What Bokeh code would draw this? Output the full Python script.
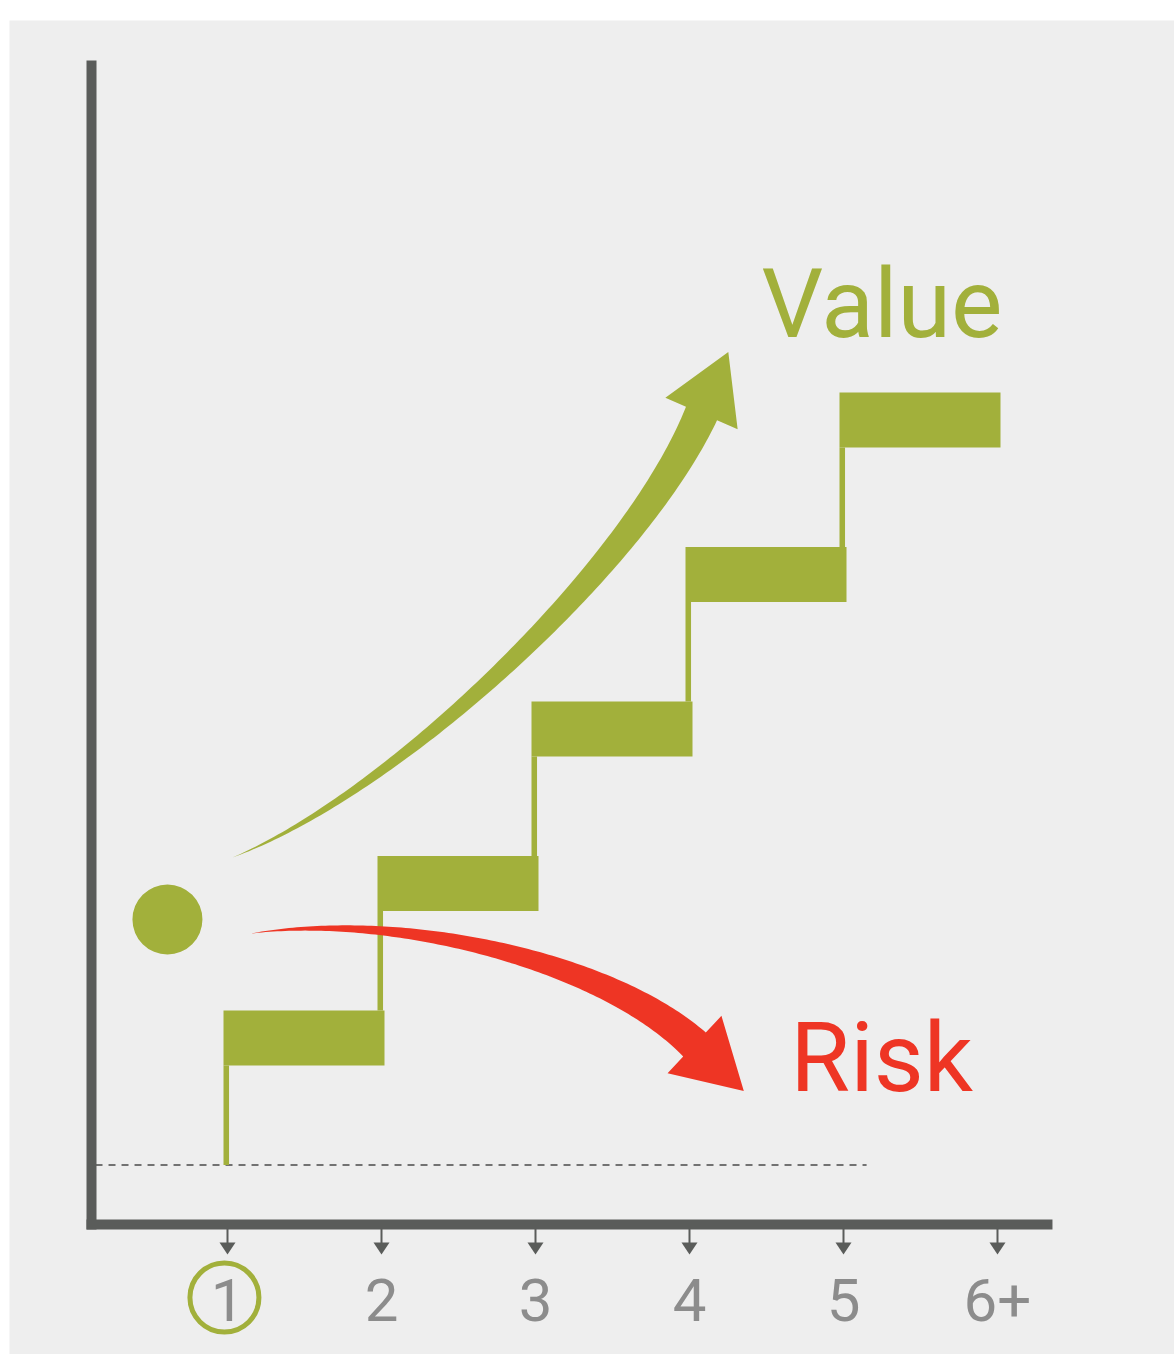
import numpy as np
from bokeh.plotting import figure
from bokeh.models import Range1d
from bokeh.core.properties import value
from bokeh.embed import file_html
from bokeh.resources import INLINE

# ---------------- data ----------------
stage_labels = ["1", "2", "3", "4", "5", "6+"]
stage_pos = [1, 2, 3, 4, 5, 6]
step_stage = [1, 2, 3, 4, 5]      # each step starts at this stage
step_value = [1, 2, 3, 4, 5]      # value level reached at that step
highlight_stage = 1
start_dot = [0.61, 1.589]         # starting point
baseline_value = 0

# value / risk curve control points (data units)
value_curve = [(1.032, 1.99), (2.07, 2.40), (3.64, 3.86), (4.078, 4.864)]
risk_curve = [(1.149, 1.498), (2.112, 1.642), (3.466, 1.314), (4.0325, 0.780)]
curve_labels = ["Value", "Risk"]
label_pos_x = [4.468, 4.655]
label_pos_y = [5.572, 0.694]

GREEN = "#a2b03b"
RED = "#ee3524"
AXIS = "#5a5c5a"
TICK_TXT = "#8c8c8c"
BG = "#eeeeee"

p = figure(width=1174, height=1354,
           x_range=Range1d(-0.4156, 7.1494), y_range=Range1d(-1.2265, 7.4078),
           x_axis_type=None, y_axis_type=None,
           output_backend="svg", toolbar_location=None,
           min_border=0, min_border_left=9, min_border_top=20,
           min_border_right=0, min_border_bottom=0)
p.grid.visible = False
p.outline_line_color = None
p.background_fill_color = BG
p.border_fill_color = "white"

# dashed baseline
p.line(x=[0.143, 5.15], y=[baseline_value, baseline_value], line_color="#4a4a4a",
       line_width=1.4, line_dash="7 6")

# staircase bars
bar_h = 0.356
bar_left = [s - 0.026 for s in step_stage]
bar_right = [s + 1 + 0.0195 for s in step_stage]
bar_top = list(step_value)
bar_bot = [v - bar_h for v in step_value]
p.quad(left=bar_left, right=bar_right, top=bar_top, bottom=bar_bot,
       fill_color=GREEN, line_color=None)
# thin risers
p.quad(left=bar_left, right=[l + 0.036 for l in bar_left],
       top=bar_bot, bottom=[v - 1 for v in step_value],
       fill_color=GREEN, line_color=None)

# axes (thick L)
p.quad(left=[0.0844], right=[0.1494], top=[7.149], bottom=[-0.4175],
       fill_color=AXIS, line_color=None)
p.quad(left=[0.0844], right=[6.357], top=[-0.3528], bottom=[-0.4175],
       fill_color=AXIS, line_color=None)

# tick arrows
p.segment(x0=stage_pos, y0=[-0.41] * len(stage_pos), x1=stage_pos,
          y1=[-0.505] * len(stage_pos), line_color=AXIS, line_width=2)
tri_xs = [[s - 0.052, s + 0.052, s] for s in stage_pos]
tri_ys = [[-0.5016, -0.5016, -0.5793] for _ in stage_pos]
p.patches(xs=tri_xs, ys=tri_ys, fill_color=AXIS, line_color=None)

# tick labels
p.text(x=stage_pos, y=[-0.8706] * len(stage_pos), text=stage_labels,
       text_font=value("Roboto"), text_font_size="60px", text_color=TICK_TXT,
       text_align="center", text_baseline="alphabetic")
# circle around highlighted stage
p.scatter(x=[highlight_stage - 0.02], y=[-0.8576], marker="circle", size=69,
          fill_color=None, line_color=GREEN, line_width=5)

# start dot
p.scatter(x=[start_dot[0]], y=[start_dot[1]], marker="circle", size=70,
          fill_color=GREEN, line_color=None)


def tapered_arrow(ctrl, w_end, head_len, head_half, n=120):
    P = np.array(ctrl, dtype=float)
    t = np.linspace(0, 1, n)[:, None]
    C = ((1 - t) ** 3) * P[0] + 3 * ((1 - t) ** 2) * t * P[1] + 3 * (1 - t) * t ** 2 * P[2] + t ** 3 * P[3]
    D = 3 * ((1 - t) ** 2) * (P[1] - P[0]) + 6 * (1 - t) * t * (P[2] - P[1]) + 3 * t ** 2 * (P[3] - P[2])
    D = D / np.linalg.norm(D, axis=1)[:, None]
    N = np.column_stack([-D[:, 1], D[:, 0]])
    w = w_end * t[:, 0]
    up = C + N * (w / 2)[:, None]
    lo = C - N * (w / 2)[:, None]
    T = D[-1]
    Ne = N[-1]
    b1 = P[3] + Ne * head_half
    b2 = P[3] - Ne * head_half
    tip = P[3] + T * head_len
    xs = list(up[:, 0]) + [b1[0], tip[0], b2[0]] + list(lo[::-1, 0])
    ys = list(up[:, 1]) + [b1[1], tip[1], b2[1]] + list(lo[::-1, 1])
    return xs, ys


gx, gy = tapered_arrow(value_curve, 0.22, 0.435, 0.256)
rx, ry = tapered_arrow(risk_curve, 0.214, 0.44, 0.255)
p.patch(x=gx, y=gy, fill_color=GREEN, line_color=None)
p.patch(x=rx, y=ry, fill_color=RED, line_color=None)

# labels
p.text(x=label_pos_x, y=label_pos_y, text=curve_labels,
       text_font=value("Roboto"), text_font_size="97px",
       text_color=[GREEN, RED], text_align="left", text_baseline="alphabetic")

open("out.html", "w").write(file_html(p, INLINE))
